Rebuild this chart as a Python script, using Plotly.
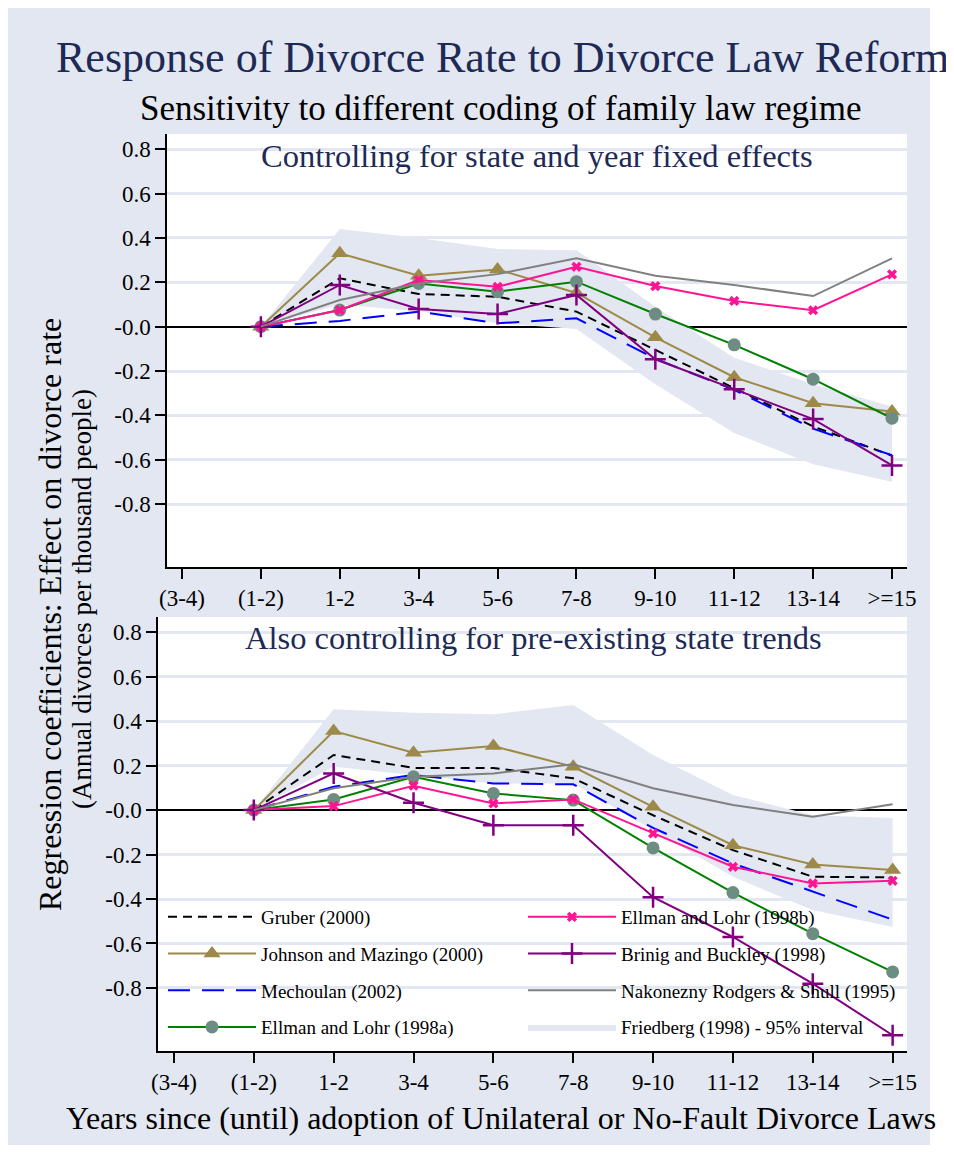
import plotly.graph_objects as go

# x categories (years since / until reform) and y tick labels
categories = ["(3-4)", "(1-2)", "1-2", "3-4", "5-6", "7-8", "9-10", "11-12", "13-14", ">=15"]
periods = categories[1:]
y_ticks = [0.8, 0.6, 0.4, 0.2, 0.0, -0.2, -0.4, -0.6, -0.8]
y_tick_labels = ["0.8", "0.6", "0.4", "0.2", "-0.0", "-0.2", "-0.4", "-0.6", "-0.8"]

# top panel: state and year fixed effects
gruber_fe = [0, 0.218, 0.147, 0.135, 0.068, -0.105, -0.277, -0.45, -0.582]
johnson_fe = [0, 0.331, 0.23, 0.258, 0.152, -0.048, -0.228, -0.345, -0.383]
mechoulan_fe = [0, 0.026, 0.068, 0.015, 0.038, -0.145, -0.285, -0.46, -0.58]
ellman_a_fe = [0, 0.075, 0.195, 0.158, 0.203, 0.057, -0.082, -0.237, -0.413]
ellman_b_fe = [0, 0.075, 0.21, 0.18, 0.27, 0.183, 0.116, 0.074, 0.236]
brinig_fe = [0, 0.188, 0.08, 0.057, 0.143, -0.147, -0.282, -0.417, -0.626]
nakonezny_fe = [0, 0.12, 0.195, 0.237, 0.308, 0.23, 0.188, 0.138, 0.308]
friedberg_lo_fe = [0, 0.10, 0.07, 0.015, -0.01, -0.26, -0.48, -0.62, -0.70]
friedberg_hi_fe = [0, 0.44, 0.40, 0.35, 0.345, 0.09, -0.14, -0.26, -0.36]

# bottom panel: also state trends
gruber_tr = [0, 0.248, 0.19, 0.19, 0.143, -0.023, -0.18, -0.30, -0.303]
johnson_tr = [0, 0.356, 0.258, 0.288, 0.195, 0.015, -0.158, -0.245, -0.27]
mechoulan_tr = [0, 0.105, 0.158, 0.12, 0.116, -0.08, -0.24, -0.368, -0.493]
ellman_a_tr = [0, 0.048, 0.15, 0.075, 0.045, -0.17, -0.371, -0.556, -0.728]
ellman_b_tr = [0, 0.018, 0.11, 0.03, 0.048, -0.105, -0.255, -0.33, -0.318]
brinig_tr = [0, 0.165, 0.033, -0.068, -0.068, -0.392, -0.571, -0.781, -1.013]
nakonezny_tr = [0, 0.098, 0.15, 0.165, 0.206, 0.098, 0.023, -0.03, 0.026]
friedberg_lo_tr = [0, 0.195, 0.158, 0.12, 0.12, -0.09, -0.30, -0.45, -0.526]
friedberg_hi_tr = [0, 0.454, 0.438, 0.431, 0.473, 0.248, 0.068, -0.023, -0.035]

# page body adds an 8px margin, so the figure is a bit smaller than the window
OFF = 8
W, H = 946, 1137
BG = "#E2E7F1"
NAVY = "#1D2A55"
FONT = "Liberation Serif, Times New Roman, Times, serif"


def fx(px):
    return (px - OFF) / W


def fy(py):
    return 1 - (py - OFF) / H


styles = {
    "Gruber (2000)": dict(line=dict(color="black", width=2, dash="9px,6px"), mode="lines"),
    "Johnson and Mazingo (2000)": dict(line=dict(color="#9E8A48", width=2), mode="lines+markers",
                                       marker=dict(symbol="triangle-up", size=15, color="#9E8A48")),
    "Mechoulan (2002)": dict(line=dict(color="#0000FF", width=2, dash="22px,12px"), mode="lines"),
    "Ellman and Lohr (1998a)": dict(line=dict(color="#008000", width=2), mode="lines+markers",
                                    marker=dict(symbol="circle", size=13, color="#6E8D82")),
    "Ellman and Lohr (1998b)": dict(line=dict(color="#FF1493", width=2), mode="lines+markers",
                                    marker=dict(symbol="x", size=9, color="#FF1493")),
    "Brinig and Buckley (1998)": dict(line=dict(color="#800080", width=2), mode="lines+markers",
                                      marker=dict(symbol="cross-thin", size=15,
                                                  line=dict(color="#800080", width=2.5))),
    "Nakonezny Rodgers & Shull (1995)": dict(line=dict(color="#808080", width=2), mode="lines"),
}
col1 = ["Gruber (2000)", "Johnson and Mazingo (2000)", "Mechoulan (2002)", "Ellman and Lohr (1998a)"]

panels = [
    ("x", "y", False, dict(zip(styles, [gruber_fe, johnson_fe, mechoulan_fe, ellman_a_fe,
                                        ellman_b_fe, brinig_fe, nakonezny_fe])),
     friedberg_lo_fe, friedberg_hi_fe),
    ("x2", "y2", True, dict(zip(styles, [gruber_tr, johnson_tr, mechoulan_tr, ellman_a_tr,
                                         ellman_b_tr, brinig_tr, nakonezny_tr])),
     friedberg_lo_tr, friedberg_hi_tr),
]

fig = go.Figure()
for xa, ya, show, series, lo, hi in panels:
    fig.add_trace(go.Scatter(x=periods, y=lo, xaxis=xa, yaxis=ya, mode="lines",
                             line=dict(width=0, color=BG), showlegend=False, hoverinfo="skip"))
    fig.add_trace(go.Scatter(x=periods, y=hi, xaxis=xa, yaxis=ya, mode="lines",
                             line=dict(width=0, color=BG), fill="tonexty", fillcolor=BG,
                             name="Friedberg (1998) - 95% interval", showlegend=show,
                             legend="legend2", legendrank=20, legendgroup="fb"))
    for i, (name, vals) in enumerate(series.items()):
        leg = "legend" if name in col1 else "legend2"
        fig.add_trace(go.Scatter(x=periods, y=vals, xaxis=xa, yaxis=ya, name=name,
                                 showlegend=show, legend=leg, legendgroup=name,
                                 legendrank=i + 1, **styles[name]))

axis_common = dict(showline=True, linecolor="black", linewidth=1.5, ticks="outside",
                   ticklen=10, tickwidth=1.5, tickcolor="black",
                   tickfont=dict(family=FONT, size=23, color="black"), automargin=False)
x_common = dict(axis_common, type="category", categoryorder="array", categoryarray=categories,
                tickvals=categories, ticktext=categories, showgrid=False, range=[-0.19, 9.19])
y_common = dict(axis_common, range=[-1.084, 0.869], tickvals=y_ticks, ticktext=y_tick_labels,
                showgrid=True, gridcolor=BG, gridwidth=2.5, zeroline=True,
                zerolinecolor="black", zerolinewidth=2)

legend_common = dict(font=dict(family=FONT, size=19, color="black"), bgcolor="rgba(0,0,0,0)",
                     orientation="v", traceorder="grouped", tracegroupgap=9, itemwidth=88,
                     yanchor="top", xanchor="left", y=fy(898))

fig.update_layout(
    width=W, height=H, margin=dict(l=0, r=0, t=0, b=0),
    paper_bgcolor=BG, plot_bgcolor="white",
    font=dict(family=FONT, color="black"),
    xaxis=dict(x_common, domain=[fx(167), fx(907)], anchor="y"),
    yaxis=dict(y_common, domain=[fy(567), fy(134)], anchor="x"),
    xaxis2=dict(x_common, domain=[fx(158), fx(907)], anchor="y2", range=[-0.2, 9.18]),
    yaxis2=dict(y_common, domain=[fy(1051), fy(617)], anchor="x2"),
    legend=dict(legend_common, x=fx(163)),
    legend2=dict(legend_common, x=fx(523)),
    showlegend=True,
    shapes=[
        dict(type="rect", xref="paper", yref="paper", x0=fx(930), x1=1, y0=0, y1=1,
             fillcolor="white", line=dict(width=0), layer="below"),
    ],
)

annotations = [
    dict(text="Response of Divorce Rate to Divorce Law Reform", x=fx(502), y=fy(58),
         font=dict(size=44, color=NAVY)),
    dict(text="Sensitivity to different coding of family law regime", x=fx(501), y=fy(108),
         font=dict(size=35, color="black")),
    dict(text="Controlling for state and year fixed effects", x=fx(537), y=fy(156),
         font=dict(size=32.5, color=NAVY)),
    dict(text="Also controlling for pre-existing state trends", x=fx(533), y=fy(638),
         font=dict(size=32.5, color=NAVY)),
    dict(text="Years since (until) adoption of Unilateral or No-Fault Divorce Laws", x=fx(501),
         y=fy(1118), font=dict(size=32, color="black")),
    dict(text="Regression coefficients: Effect on divorce rate", x=fx(50), y=fy(615),
         textangle=-90, font=dict(size=32, color="black")),
    dict(text="(Annual divorces per thousand people)", x=fx(82), y=fy(599),
         textangle=-90, font=dict(size=27, color="black")),
]
for a in annotations:
    a.update(xref="paper", yref="paper", showarrow=False, xanchor="center", yanchor="middle")
    a["font"]["family"] = FONT
fig.update_layout(annotations=annotations)

fig.write_html("out.html")
